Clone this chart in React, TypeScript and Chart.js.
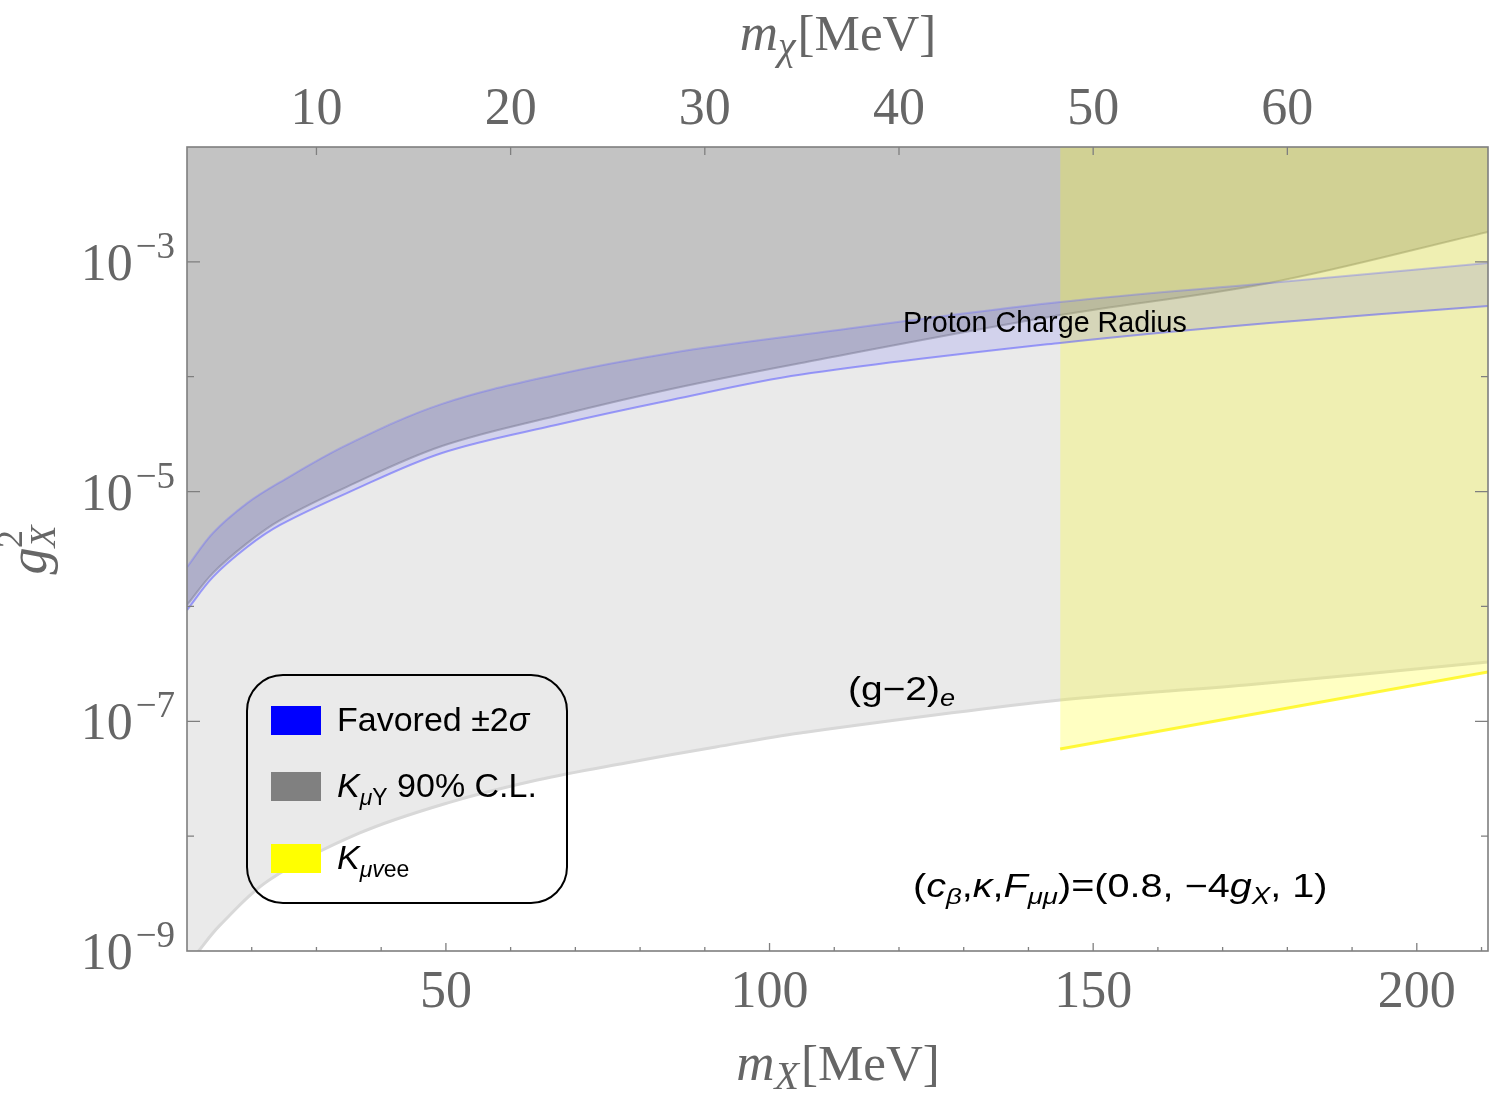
import { useEffect, useRef } from 'react';
import { Chart, registerables } from 'chart.js';

Chart.register(...registerables);

// ---- axes ----
const X_MIN = 10;
const X_MAX = 211;
const Y_MIN = 1e-9;
const Y_MAX = 1e-2;
const CHI_PER_X = 1 / 3; // m_chi = m_X / 3 on the top axis

const X_TICKS = [20, 30, 40, 50, 60, 70, 80, 90, 100, 110, 120, 130, 140, 150, 160, 170, 180, 190, 200, 210];
const X_LABELS = [50, 100, 150, 200];
const CHI_TICKS = [10, 20, 30, 40, 50, 60];
const Y_DECADES = [-8, -7, -6, -5, -4, -3];
const Y_LABELS = [-9, -7, -5, -3];

// ---- (g-2)_e bound: excluded above ----
const G2E_MASS = [10, 11.8, 15.1, 22.7, 36.6, 50.3, 64.1, 77.8, 91.7, 104.7, 144.9, 173.6, 211];
const G2E_LIMIT = [7.3e-10, 1.0e-9, 1.68e-9, 4.15e-9, 1.06e-8, 1.95e-8, 3.08e-8, 4.34e-8, 5.97e-8, 7.91e-8, 1.53e-7, 2.07e-7, 3.28e-7];

// ---- K -> mu Y, 90% C.L.: excluded above ----
const KMUY_MASS = [10, 14.0, 19.3, 24.4, 34.7, 49.4, 67.0, 84.8, 104.7, 144.9, 177.2, 211];
const KMUY_LIMIT = [1.03e-6, 1.95e-6, 3.56e-6, 5.65e-6, 1.10e-5, 2.49e-5, 4.55e-5, 7.82e-5, 1.31e-4, 3.44e-4, 6.55e-4, 1.82e-3];

// ---- K -> mu nu e e: excluded above, only above threshold ----
const KMUVEE_MASS = [144.9, 211];
const KMUVEE_LIMIT = [5.74e-8, 2.69e-7];

// ---- favoured +-2 sigma band (proton charge radius) ----
const BAND_MASS = [10, 14.0, 19.3, 24.4, 34.7, 49.4, 67.0, 84.8, 104.7, 144.9, 177.2, 211];
const BAND_UPPER = [2.2e-6, 4.36e-6, 7.94e-6, 1.21e-5, 2.55e-5, 5.8e-5, 1.04e-4, 1.61e-4, 2.31e-4, 4.47e-4, 6.55e-4, 9.77e-4];
const BAND_LOWER = [9.3e-7, 1.8e-6, 3.29e-6, 5.12e-6, 9.7e-6, 2.17e-5, 3.8e-5, 6.27e-5, 1.04e-4, 1.97e-4, 2.94e-4, 4.13e-4];

const W = 1500;
const H = 1098;

const SERIF = '"Liberation Serif", "Times New Roman", serif';
const SANS = '"Liberation Sans", Arial, sans-serif';
const AXIS_COLOR = '#7f7f7f';
const LABEL_COLOR = '#666666';

type Run = { t: string; size: number; italic?: boolean; dy?: number; dx?: number; family?: string };

function fontOf(r: Run, fallback: string) {
  return `${r.italic ? 'italic ' : ''}${r.size}px ${r.family || fallback}`;
}

function runsWidth(ctx: CanvasRenderingContext2D, runs: Run[], family: string) {
  let w = 0;
  for (const r of runs) {
    ctx.font = fontOf(r, family);
    w += ctx.measureText(r.t).width + (r.dx || 0);
  }
  return w;
}

// draws a line of mixed runs (sub/superscripts); sx stretches horizontally
function drawRuns(
  ctx: CanvasRenderingContext2D,
  x: number,
  y: number,
  runs: Run[],
  family: string,
  align: 'left' | 'center' | 'right' = 'left',
  sx = 1
) {
  const w = runsWidth(ctx, runs, family) * sx;
  const start = align === 'left' ? x : align === 'center' ? x - w / 2 : x - w;
  ctx.save();
  ctx.translate(start, y);
  ctx.scale(sx, 1);
  ctx.textAlign = 'left';
  ctx.textBaseline = 'alphabetic';
  let cx = 0;
  for (const r of runs) {
    ctx.font = fontOf(r, family);
    cx += r.dx || 0;
    ctx.fillText(r.t, cx, r.dy || 0);
    cx += ctx.measureText(r.t).width;
  }
  ctx.restore();
}

const pts = (xs: number[], ys: number[]) => xs.map((x, i) => ({ x, y: ys[i] }));

const LEGEND = [
  { color: '#0000ff', runs: [{ t: 'Favored ±2', size: 34 }, { t: 'σ', size: 34, italic: true }] as Run[] },
  {
    color: '#808080',
    runs: [
      { t: 'K', size: 34, italic: true },
      { t: 'μ', size: 23, italic: true, dy: 8 },
      { t: 'Y', size: 23, dy: 8 },
      { t: ' 90% C.L.', size: 34 },
    ] as Run[],
  },
  {
    color: '#ffff00',
    runs: [
      { t: 'K', size: 34, italic: true },
      { t: 'μv', size: 23, italic: true, dy: 8 },
      { t: 'ee', size: 23, dy: 8 },
    ] as Run[],
  },
];

const decor = {
  id: 'decor',
  afterDraw(chart: any) {
    const ctx: CanvasRenderingContext2D = chart.ctx;
    const { left, right, top, bottom } = chart.chartArea;
    const xs = chart.scales.x;
    const xc = chart.scales.xChi;
    const ys = chart.scales.y;
    ctx.save();

    // frame and tick marks
    ctx.strokeStyle = AXIS_COLOR;
    ctx.lineWidth = 1.6;
    ctx.strokeRect(left, top, right - left, bottom - top);
    ctx.lineWidth = 1.3;
    ctx.beginPath();
    for (const v of X_TICKS) {
      const px = xs.getPixelForValue(v);
      const len = X_LABELS.includes(v) ? 8 : 4;
      ctx.moveTo(px, bottom);
      ctx.lineTo(px, bottom - len);
    }
    for (const v of CHI_TICKS) {
      const px = xc.getPixelForValue(v);
      ctx.moveTo(px, top);
      ctx.lineTo(px, top + 8);
    }
    for (const e of Y_DECADES) {
      const py = ys.getPixelForValue(Math.pow(10, e));
      const len = Y_LABELS.includes(e) ? 13 : 7;
      ctx.moveTo(left, py);
      ctx.lineTo(left + len, py);
      ctx.moveTo(right, py);
      ctx.lineTo(right - len, py);
    }
    ctx.stroke();

    // tick labels
    ctx.fillStyle = LABEL_COLOR;
    for (const v of X_LABELS) {
      drawRuns(ctx, xs.getPixelForValue(v), 1007, [{ t: String(v), size: 52 }], SERIF, 'center');
    }
    for (const v of CHI_TICKS) {
      drawRuns(ctx, xc.getPixelForValue(v), 124, [{ t: String(v), size: 52 }], SERIF, 'center');
    }
    for (const e of Y_LABELS) {
      const py = ys.getPixelForValue(Math.pow(10, e));
      drawRuns(
        ctx,
        175,
        py + 18,
        [
          { t: '10', size: 52 },
          { t: '−' + String(-e), size: 37, dy: -22, dx: 3 },
        ],
        SERIF,
        'right'
      );
    }

    // axis titles
    drawRuns(
      ctx,
      838,
      1080,
      [
        { t: 'm', size: 53, italic: true },
        { t: 'X', size: 40, italic: true, dy: 9 },
        { t: '[MeV]', size: 51, dx: 2 },
      ],
      SERIF,
      'center'
    );
    drawRuns(
      ctx,
      838,
      50,
      [
        { t: 'm', size: 53, italic: true },
        { t: 'χ', size: 40, italic: true, dy: 9 },
        { t: '[MeV]', size: 51, dx: 2 },
      ],
      SERIF,
      'center'
    );
    ctx.save();
    ctx.translate(46, 550);
    ctx.rotate(-Math.PI / 2);
    drawRuns(
      ctx,
      0,
      0,
      [
        { t: 'g', size: 54, italic: true },
        { t: 'X', size: 36, italic: true, dy: 9 },
      ],
      SERIF,
      'center'
    );
    ctx.font = `36px ${SERIF}`;
    ctx.fillText('2', 2, -24);
    ctx.restore();

    // annotations
    ctx.fillStyle = '#000';
    drawRuns(ctx, 903, 332, [{ t: 'Proton Charge Radius', size: 28.7 }], SANS);
    drawRuns(
      ctx,
      848,
      700,
      [
        { t: '(g−2)', size: 33 },
        { t: 'e', size: 23, italic: true, dy: 6 },
      ],
      SANS,
      'left',
      1.18
    );
    drawRuns(
      ctx,
      913,
      897,
      [
        { t: '(', size: 33 },
        { t: 'c', size: 33, italic: true },
        { t: 'β', size: 23, italic: true, dy: 7 },
        { t: ',', size: 33 },
        { t: 'κ', size: 33, italic: true },
        { t: ',', size: 33 },
        { t: 'F', size: 33, italic: true },
        { t: 'μμ', size: 23, italic: true, dy: 7 },
        { t: ')=(0.8, −4', size: 33 },
        { t: 'g', size: 33, italic: true },
        { t: 'X', size: 23, italic: true, dy: 7 },
        { t: ', 1)', size: 33 },
      ],
      SANS,
      'left',
      1.2
    );

    // legend
    ctx.strokeStyle = '#000';
    ctx.lineWidth = 2;
    ctx.beginPath();
    (ctx as any).roundRect(247, 675, 320, 228, 36);
    ctx.stroke();
    const rowY = [720, 786, 858];
    LEGEND.forEach((item, i) => {
      ctx.fillStyle = item.color;
      ctx.fillRect(271, rowY[i] - 14, 50, 29);
      ctx.fillStyle = '#000';
      drawRuns(ctx, 337, rowY[i] + 11, item.runs, SANS);
    });

    ctx.restore();
  },
};

export default function App() {
  const ref = useRef<HTMLCanvasElement>(null);

  useEffect(() => {
    const common = { pointRadius: 0, tension: 0.35, xAxisID: 'x', yAxisID: 'y' };
    const chart = new Chart(ref.current as HTMLCanvasElement, {
      type: 'line',
      data: {
        datasets: [
          {
            ...common,
            label: '(g−2)e',
            data: pts(G2E_MASS, G2E_LIMIT),
            borderColor: '#d8d8d8',
            borderWidth: 3,
            backgroundColor: '#eaeaea',
            fill: 'end',
            order: 5,
          },
          {
            ...common,
            label: 'KμY 90% C.L.',
            data: pts(KMUY_MASS, KMUY_LIMIT),
            borderColor: 'rgba(140,140,140,0.55)',
            borderWidth: 2,
            backgroundColor: 'rgba(128,128,128,0.36)',
            fill: 'end',
            order: 4,
          },
          {
            ...common,
            label: 'Kμvee',
            data: pts(KMUVEE_MASS, KMUVEE_LIMIT),
            borderColor: 'rgba(255,245,0,0.75)',
            borderWidth: 3,
            backgroundColor: 'rgba(255,255,0,0.24)',
            fill: 'end',
            order: 3,
          },
          {
            ...common,
            label: 'Favored upper',
            data: pts(BAND_MASS, BAND_UPPER),
            borderColor: 'rgba(110,110,255,0.35)',
            borderWidth: 2,
            fill: false,
            order: 2,
          },
          {
            ...common,
            label: 'Favored ±2σ',
            data: pts(BAND_MASS, BAND_LOWER),
            borderColor: 'rgba(90,90,255,0.55)',
            borderWidth: 2,
            backgroundColor: 'rgba(0,0,255,0.1)',
            fill: '-1',
            order: 1,
          },
        ],
      },
      options: {
        responsive: false,
        animation: false,
        devicePixelRatio: 1,
        layout: { padding: { left: 187, right: 12, top: 147, bottom: 147 } },
        plugins: { legend: { display: false }, tooltip: { enabled: false } },
        events: [],
        scales: {
          x: { type: 'linear', min: X_MIN, max: X_MAX, display: false },
          xChi: { type: 'linear', axis: 'x', position: 'top', min: X_MIN * CHI_PER_X, max: X_MAX * CHI_PER_X, display: false },
          y: { type: 'logarithmic', min: Y_MIN, max: Y_MAX, display: false },
        },
      } as any,
      plugins: [decor],
    });
    return () => chart.destroy();
  }, []);

  return (
    <div style={{ position: 'fixed', left: 0, top: 0, width: W, height: H, background: '#fff' }}>
      <canvas ref={ref} width={W} height={H} style={{ display: 'block', width: W, height: H }} />
    </div>
  );
}
